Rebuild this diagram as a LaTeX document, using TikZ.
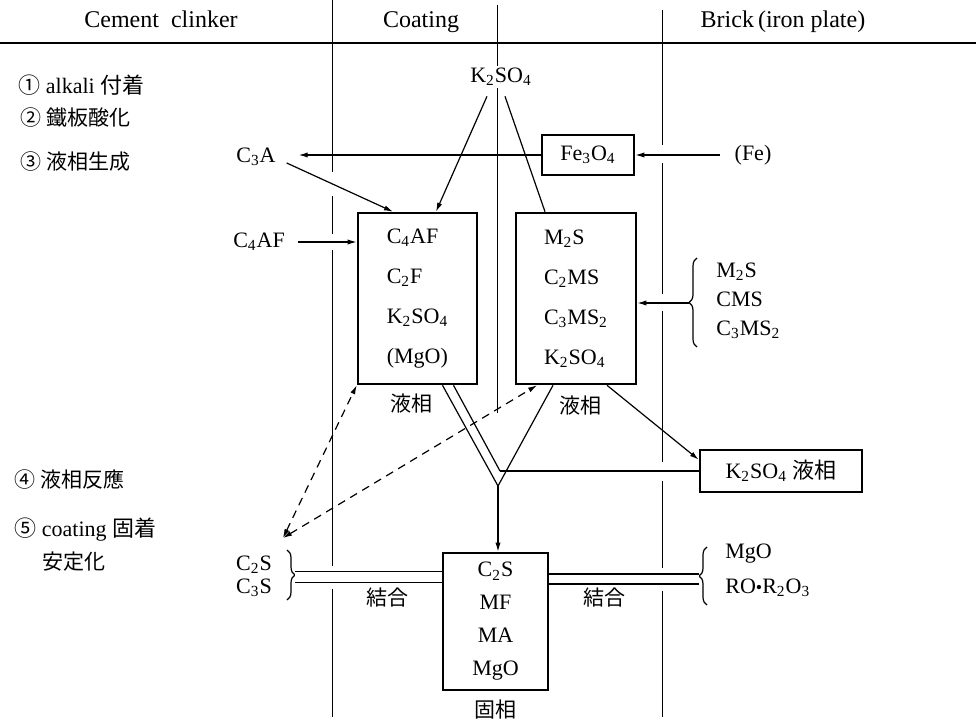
\documentclass[tikz,border=0pt]{standalone}
\usepackage{fontspec}
\setmainfont{Liberation Serif}
\newfontfamily\jp{Noto Sans CJK JP}
\usetikzlibrary{arrows.meta, positioning, calc, decorations.pathreplacing}
\newcommand{\chsub}[1]{\textsubscript{#1}}

\begin{document}
\begin{tikzpicture}[x=0.5pt, y=-0.5pt,
  font=\fontsize{11}{13}\selectfont,
  box/.style={draw, line width=1.3pt, align=left, inner sep=0pt},
  lbl/.style={inner sep=2pt},
  jpl/.style={font=\fontsize{10.5}{12}\selectfont\jp, inner sep=2pt},
  head/.style={font=\fontsize{12}{14}\selectfont, anchor=base},
  bound/.style={line width=0.45pt},
  ln/.style={line width=0.6pt},
  arr/.style={-{Latex[length=4.5pt, width=2.6pt]}, line width=0.6pt},
  dsh/.style={{Latex[length=4.5pt, width=2.6pt]}-{Latex[length=4.5pt, width=2.6pt]},
    line width=0.6pt, dash pattern=on 4pt off 3pt},
  brc/.style={decorate, decoration={brace, amplitude=4pt}, line width=0.6pt}]
\useasboundingbox (0,0) rectangle (976,727);
\draw[line width=1pt] (0,43) -- (976,43);
\foreach \a/\b in {0/172,196/234,250/566,589/717} \draw[bound] (332,\a) -- (332,\b);
\draw[bound] (497,5) -- (497,413);
\foreach \a/\b in {10/145,163/294,311/462,481/568,591/717} \draw[bound] (662,\a) -- (662,\b);

\node[head] (hcl) at (161,28) {Cement\ \ clinker};
\node[head] (hco) at (421,28) {Coating};
\node[head] (hbr) at (783,28) {Brick\,(iron plate)};

\node[lbl, anchor=west] (s1) at (14,85) {{\jp ①} alkali {\jp 付着}};
\node[jpl, anchor=west] (s2) at (16,118) {② 鐵板酸化};
\node[jpl, anchor=west] (s3) at (16,162) {③ 液相生成};
\node[jpl, anchor=west] (s4) at (10,480) {④ 液相反應};
\node[lbl, anchor=west] (s5) at (10,530) {{\jp ⑤} coating {\jp 固着}};
\node[jpl, anchor=west] (s6) at (38,562) {安定化};

\node[fill=white, inner sep=1pt] (k1) at (501,77) {K\chsub2SO\chsub4};
\node[box, minimum width=46pt, minimum height=20pt, align=center] (fe) at (588,155) {Fe\chsub3O\chsub4};
\node (fe0) at (753,155) {(Fe)};
\node (c3a) at (256,157) {C\chsub3A};
\node (c4af) at (259,242) {C\chsub4AF};
\node[box, minimum width=59.5pt, minimum height=85.5pt, font=\fontsize{11}{20}\selectfont]
  (b1) at (417.5,298.5) {C\chsub4AF\\C\chsub2F\\K\chsub2SO\chsub4\\(MgO)};
\node[box, minimum width=60pt, minimum height=85.5pt, font=\fontsize{11}{20}\selectfont]
  (b2) at (576,298.5) {M\chsub2S\\C\chsub2MS\\C\chsub3MS\chsub2\\K\chsub2SO\chsub4};
\node[jpl, below=2pt of b1, xshift=-3pt] (lq1) {液相};
\node[jpl, below=3pt of b2, xshift=2pt] (lq2) {液相};
\node[box, minimum width=81pt, minimum height=21pt, align=center] (kl) at (781,471) {K\chsub2SO\chsub4\ {\jp 液相}};
\node[lbl, anchor=west, align=left, font=\fontsize{11}{14.5}\selectfont] (rl) at (712,301) {M\chsub2S\\CMS\\C\chsub3MS\chsub2};

\node (c2s) at (254,565) {C\chsub2S};
\node (c3s) at (254,588) {C\chsub3S};
\node[box, minimum width=52.5pt, minimum height=68.5pt, align=center, font=\fontsize{11}{16.5}\selectfont]
  (bot) at (495.5,621.5) {C\chsub2S\\MF\\MA\\MgO};
\node[jpl, below=2pt of bot] (sol) {固相};
\node[jpl] (jl) at (387,598) {結合};
\node[jpl] (jr) at (604,598) {結合};
\node[lbl, anchor=west, align=left, font=\fontsize{11}{17.5}\selectfont] (rr) at (721,570) {MgO\\RO{\small\textbullet}R\chsub2O\chsub3};

\draw[brc] (697,347) -- (697,258);
\coordinate (bt) at (689,303);
\draw[brc] (287,550) -- (287,600);
\coordinate (lt) at (295,577);
\draw[brc] (707,605) -- (707,547);
\coordinate (rt) at (699,579);
\coordinate (ds) at (283,538);
\coordinate (v) at (498,486);
\coordinate (vk) at (500,471);

\draw[arr] ($(k1.south)+(-14,8)$) -- ($(b1.north)+(18.5,0)$);
\draw[ln] ($(k1.south)+(4,8)$) -- ($(b2.north)+(-31,0)$);
\draw[arr, shorten >=8pt] (fe.west) -- (fe.west -| c3a.east);
\draw[arr, shorten <=4pt] (fe0.west) -- (fe.east);
\draw[arr] ($(c3a.east)+(4,6)$) -- ($(b1.north)+(-24.5,0)$);
\draw[arr, shorten <=3pt] (c4af.east) -- (c4af.east -| b1.west);
\draw[arr] (bt) -- (bt -| b2.east);

\draw[ln] (vk) -- (vk -| kl.west);
\draw[ln] ($(b1.south)+(25,0)$) -- (v);
\draw[ln] ($(b1.south)+(36,0)$) -- (vk);
\draw[ln] ($(b2.south)+(-23,0)$) -- (v);
\draw[arr] (v) -- (v |- bot.north);
\draw[arr] ($(b2.south)+(31,0)$) -- ($(kl.north west)+(0,11)$);

\draw[dsh] (ds) -- (b1.south west);
\draw[dsh] (ds) -- ($(b2.south)+(-39,0)$);

\draw[ln, double, double distance=5pt] (lt) -- (lt -| bot.west);
\draw[ln, double, double distance=4.4pt] (rt -| bot.east) -- (rt);
\end{tikzpicture}
\end{document}
